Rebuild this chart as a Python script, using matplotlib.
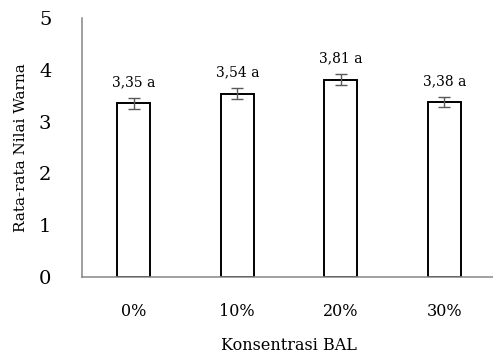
import matplotlib.pyplot as plt
import numpy as np

# data
categories = ["0%", "10%", "20%", "30%"]
values = [3.35, 3.54, 3.81, 3.38]
errors = [0.10, 0.10, 0.10, 0.10]
labels = ["3,35 a", "3,54 a", "3,81 a", "3,38 a"]

plt.rcParams['font.family'] = ['DejaVu Serif']

fig = plt.figure(figsize=(4.93, 3.58), dpi=100)
ax = fig.add_axes([0.1663, 0.2263, 0.84, 0.7235])

x = np.arange(len(categories))
ax.bar(x, values, width=0.32, color="white", edgecolor="black", linewidth=1.4, zorder=2)
ax.errorbar(x, values, yerr=errors, fmt="none", ecolor="#595959",
            elinewidth=1.0, capsize=4, capthick=1.0, zorder=3)

# value labels above the error bars
for xi, v, e, t in zip(x, values, errors, labels):
    ax.text(xi, v + e + 0.17, t, ha="center", va="bottom", fontsize=10)

ax.set_xlim(-0.5, 3.5)
ax.set_ylim(0, 5)
ax.set_yticks(range(6))
ax.set_xticks(x)
ax.set_xticklabels(categories, fontsize=11.5)
ax.tick_params(axis="y", labelsize=14, length=0, pad=22)
ax.tick_params(axis="x", length=0, pad=19)

for s in ["top", "right"]:
    ax.spines[s].set_visible(False)
for s in ["left", "bottom"]:
    ax.spines[s].set_color("#868686")
    ax.spines[s].set_linewidth(1.1)

ax.set_ylabel("Rata-rata Nilai Warna", fontsize=11, labelpad=8)
ax.set_xlabel("Konsentrasi BAL", fontsize=11.5, labelpad=12)

fig.savefig("out.png", dpi=100)
